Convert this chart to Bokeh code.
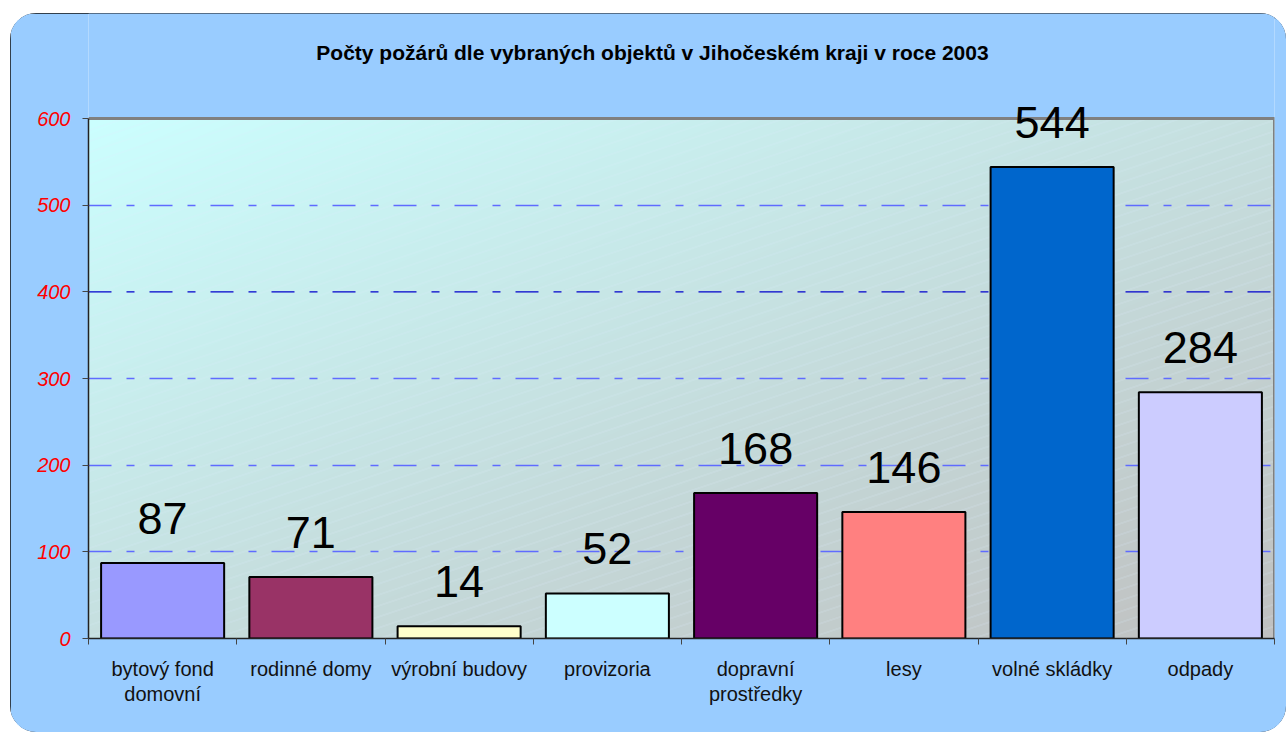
import numpy as np
from bokeh.plotting import figure
from bokeh.models import Range1d, FixedTicker, Span, ColumnDataSource, LabelSet, Label
from bokeh.core.properties import value
from bokeh.embed import file_html
from bokeh.resources import INLINE

title_text = "Počty požárů dle vybraných objektů v Jihočeském kraji v roce 2003"
categories = ["bytový fond\ndomovní", "rodinné domy", "výrobní budovy", "provizoria",
              "dopravní\nprostředky", "lesy", "volné skládky", "odpady"]
values = [87, 71, 14, 52, 168, 146, 544, 284]
bar_colors = ["#9999FF", "#993366", "#FFFFCC", "#CCFFFF", "#660066", "#FF8080", "#0066CC", "#CCCCFF"]
y_ticks = [0, 100, 200, 300, 400, 500, 600]
grid_blue = [100, 200, 300, 500]
grid_dark = [400]

n = len(categories)
centers = [i + 0.5 for i in range(n)]
bounds = list(range(n + 1))
ymax = y_ticks[-1]

FONT = "Liberation Sans"
DASH = "23 15 8 15"
BG = "#99CCFF"

# layout (pixels)
FIG_W, FIG_H = 1276, 719
B_LEFT, B_RIGHT, B_BOTTOM = 78, 12, 94
PLOT_AREA_H = 520            # pixel height of the 0..600 plot area
frame_h = FIG_H - B_BOTTOM   # frame reaches the top of the figure
y_end = ymax * frame_h / PLOT_AREA_H

p = figure(width=FIG_W, height=FIG_H, x_range=Range1d(0, n), y_range=Range1d(0, y_end),
           output_backend="svg", toolbar_location=None, title=None,
           min_border_left=B_LEFT, min_border_right=B_RIGHT, min_border_top=0,
           min_border_bottom=B_BOTTOM,
           border_fill_color=BG, background_fill_color=BG,
           outline_line_color=None)
p.margin = (13, 0, 0, 10)
p.styles = {"border-radius": "26px", "overflow": "hidden",
            "outline": "1.5px solid #111111", "outline-offset": "-1px"}

# gradient background with faint diagonal lines (style only)
W, H = 1186, PLOT_AREA_H
xx, yy = np.meshgrid(np.arange(W), np.arange(H))
ydown = H - 1 - yy
t = 0.5 * (xx / W) + 0.5 * (ydown / H)
c0 = np.array([204, 255, 255], dtype=float)
c1 = np.array([192, 192, 192], dtype=float)
rgb = c0[None, None, :] * (1 - t[..., None]) + c1[None, None, :] * t[..., None]
line_mask = ((ydown + xx / 3.0) % 11.0) < 1.0
hl = np.array([222, 238, 255], dtype=float)
rgb[line_mask] = rgb[line_mask] * 0.7 + hl * 0.3
img = np.empty((H, W), dtype=np.uint32)
view = img.view(dtype=np.uint8).reshape((H, W, 4))
view[..., 0] = rgb[..., 0].astype(np.uint8)
view[..., 1] = rgb[..., 1].astype(np.uint8)
view[..., 2] = rgb[..., 2].astype(np.uint8)
view[..., 3] = 255
bg = p.image_rgba(image=[img], x=0, y=0, dw=n, dh=ymax)
bg.level = "image"

# grid
p.xgrid.visible = False
p.ygrid.ticker = FixedTicker(ticks=grid_blue)
p.ygrid.grid_line_color = "#5F6BFF"
p.ygrid.grid_line_width = 1.5
p.ygrid.grid_line_dash = DASH
for v in grid_dark:
    p.add_layout(Span(location=v, dimension="width", line_color="#0000CC",
                      line_width=1.2, line_dash=DASH, level="underlay"))

# plot-area border (top and right, gray)
p.line(x=[0, n, n], y=[ymax, ymax, 0], line_color="#808080", line_width=3)

src = ColumnDataSource(dict(x=centers, top=values, color=bar_colors,
                            label=[str(v) for v in values]))
p.vbar(x="x", top="top", width=0.83, fill_color="color", line_color="black",
       line_width=2, source=src)

p.add_layout(LabelSet(x="x", y="top", text="label", source=src, text_align="center",
                      text_baseline="alphabetic", y_offset=29, text_font=value(FONT),
                      text_font_size=value("45px"), text_color="black"))

# y axis
ya = p.yaxis[0]
ya.ticker = FixedTicker(ticks=y_ticks)
ya.bounds = (0, ymax)
ya.major_tick_out = 6
ya.major_tick_in = 0
ya.minor_tick_out = 0
ya.minor_tick_in = 0
ya.axis_line_color = "#222222"
ya.axis_line_width = 1.5
ya.major_tick_line_color = "#444444"
ya.major_label_text_color = "#FF0000"
ya.major_label_text_font = FONT
ya.major_label_text_font_style = "italic"
ya.major_label_text_font_size = "20px"
ya.major_label_standoff = 12

# x axis
xa = p.xaxis[0]
xa.ticker = FixedTicker(ticks=centers, minor_ticks=bounds)
xa.major_label_overrides = {c: cat for c, cat in zip(centers, categories)}
xa.major_tick_out = 0
xa.major_tick_in = 0
xa.minor_tick_out = 6
xa.minor_tick_in = 0
xa.minor_tick_line_color = "#444444"
xa.axis_line_color = "#222222"
xa.axis_line_width = 1.5
xa.major_label_text_font = FONT
xa.major_label_text_font_size = "20px"
xa.major_label_text_color = "#111111"
xa.major_label_text_line_height = 1.15
xa.major_label_standoff = 13

# title as a label positioned in screen units (relative to the frame)
p.add_layout(Label(x=564, y=586, x_units="screen", y_units="screen", text=title_text,
                   text_align="center", text_baseline="alphabetic", text_font=FONT,
                   text_font_size="21px", text_font_style="bold", text_color="black"))

open("out.html", "w").write(file_html(p, INLINE))
